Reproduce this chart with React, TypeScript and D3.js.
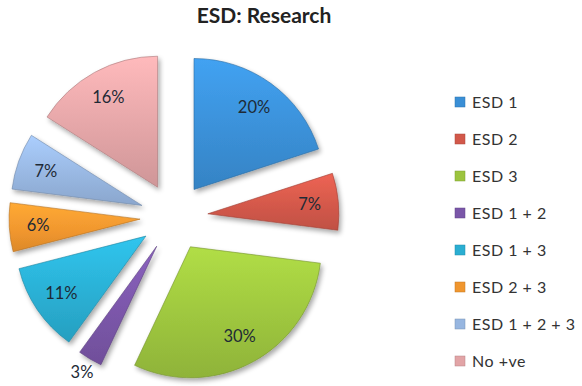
import React from "react";
import * as d3 from "d3";

const categories = ["ESD 1", "ESD 2", "ESD 3", "ESD 1 + 2", "ESD 1 + 3", "ESD 2 + 3", "ESD 1 + 2 + 3", "No +ve"];
const values = [20, 7, 30, 3, 11, 6, 7, 16];
const labels = ["20%", "7%", "30%", "3%", "11%", "6%", "7%", "16%"];
const colors = ["#3a8fd6", "#d2584a", "#9cc43e", "#7a56a8", "#2aaed2", "#f0962e", "#97b6e0", "#e2a4a6"];

const W = 582, H = 386;
const CX = 174, CY = 217, R = 131, EXPLODE = 34;

export default function App() {
  const pie = d3.pie<number>().sort(null).value((v) => v).startAngle(0).endAngle(2 * Math.PI);
  const arcs = pie(values);
  const arc = d3.arc<d3.PieArcDatum<number>>().innerRadius(0).outerRadius(R);
  const legendY = d3.scalePoint<string>().domain(categories).range([102, 361]);

  return (
    <svg width={W} height={H} style={{ position: "absolute", left: 0, top: 0, background: "#fff" }}>
      <defs>
        <filter id="sh" x="-30%" y="-30%" width="160%" height="160%">
          <feGaussianBlur in="SourceAlpha" stdDeviation="2.5" />
          <feOffset dx="2" dy="3" result="b" />
          <feComponentTransfer><feFuncA type="linear" slope="0.35" /></feComponentTransfer>
          <feMerge><feMergeNode /><feMergeNode in="SourceGraphic" /></feMerge>
        </filter>
        {colors.map((c, i) => {
          const base = d3.color(c)!;
          return (
            <linearGradient key={i} id={`g${i}`} x1="0" y1="0" x2="0" y2="1">
              <stop offset="0%" stopColor={d3.color(c)!.brighter(0.35).formatHex()} />
              <stop offset="60%" stopColor={base.formatHex()} />
              <stop offset="100%" stopColor={d3.color(c)!.darker(0.25).formatHex()} />
            </linearGradient>
          );
        })}
      </defs>
      <text x={264} y={23} textAnchor="middle" fontFamily="Lato, 'Open Sans', sans-serif" fontWeight="bold" fontSize={21} fill="#222">
        ESD: Research
      </text>
      <g transform={`translate(${CX},${CY})`}>
        {arcs.map((a, i) => {
          const mid = (a.startAngle + a.endAngle) / 2;
          const dx = EXPLODE * Math.sin(mid), dy = -EXPLODE * Math.cos(mid);
          return (
            <g key={i} transform={`translate(${dx},${dy})`} filter="url(#sh)">
              <path d={arc(a)!} fill={`url(#g${i})`} stroke={d3.color(colors[i])!.darker(0.8).formatHex()} strokeWidth={1} strokeOpacity={0.6} />
            </g>
          );
        })}
        {arcs.map((a, i) => {
          const mid = (a.startAngle + a.endAngle) / 2;
          const f = values[i] < 5 ? 1.12 : 0.78;
          const x = (EXPLODE + R * f) * Math.sin(mid);
          const y = -(EXPLODE + R * f) * Math.cos(mid);
          return (
            <text key={i} x={x} y={y} dy="0.35em" textAnchor="middle" fontFamily="Lato, 'Open Sans', sans-serif" fontSize={16.5} fill="#1e2a36">
              {labels[i]}
            </text>
          );
        })}
      </g>
      <g>
        {categories.map((c, i) => (
          <g key={c} transform={`translate(455,${legendY(c)})`}>
            <rect x={0} y={-5} width={10} height={10} fill={colors[i]} stroke={d3.color(colors[i])!.darker(0.6).formatHex()} strokeWidth={0.5} />
            <text x={17} y={0} dy="0.35em" fontFamily="Lato, 'Open Sans', sans-serif" fontSize={16} letterSpacing={0.5} fill="#333">{c}</text>
          </g>
        ))}
      </g>
    </svg>
  );
}
